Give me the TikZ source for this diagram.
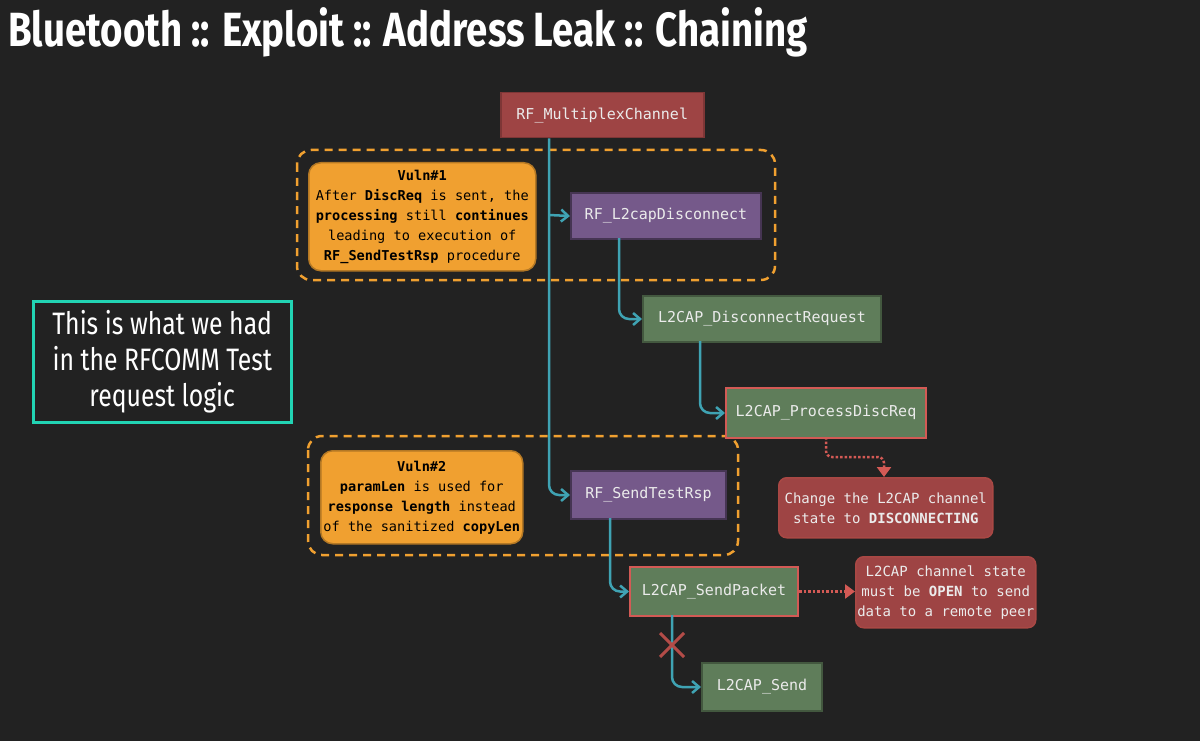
\documentclass[tikz,border=0pt]{standalone}
\usepackage{fontspec}
\setmainfont{DejaVu Sans Mono}
\newfontfamily\titlefont[FakeStretch=0.8]{Fira Sans}
\usetikzlibrary{arrows.meta}
\definecolor{bg}{HTML}{222222}
\definecolor{cred}{HTML}{9E4444}
\definecolor{cpur}{HTML}{75598A}
\definecolor{cgrn}{HTML}{5F7D5A}
\definecolor{corg}{HTML}{F0A030}
\definecolor{cteal}{HTML}{3FA3B3}
\definecolor{cbord}{HTML}{D35A55}
\definecolor{caqua}{HTML}{22D4B4}
\tikzset{
 fn/.style={font=\fontsize{15}{18}\selectfont, text=white!92!black, inner sep=0pt, anchor=north west},
 redbox/.style={fn, fill=cred, draw=cred!80!black, line width=1.5pt},
 purbox/.style={fn, fill=cpur, draw=cpur!60!black, line width=2pt},
 grnbox/.style={fn, fill=cgrn, draw=cgrn!70!black, line width=2pt},
 grnred/.style={fn, fill=cgrn, draw=cbord, line width=2pt},
 note/.style={fn, fill=cred, draw=cbord!80!black, rounded corners=8pt, line width=1.5pt, align=center, font=\fontsize{14}{20}\selectfont},
 vuln/.style={fn, fill=corg, draw=corg!75!black, rounded corners=12pt, line width=1.5pt, align=center, text=black, font=\fontsize{13.6}{20}\selectfont},
 dbox/.style={draw=corg, dashed, dash pattern=on 8pt off 6pt, line width=2.5pt, rounded corners=14pt},
 flow/.style={draw=cteal, line width=2.5pt, rounded corners=10pt, -{Straight Barb[length=7pt,width=12pt]}},
 dot/.style={draw=cbord, dotted, line width=2.5pt, rounded corners=6pt, -{Triangle[length=10pt,width=14pt]}},
}
\begin{document}
\begin{tikzpicture}[x=1pt,y=-1pt]
\fill[bg] (0,0) rectangle (1200,741);
\useasboundingbox (0,0) rectangle (1200,741);
\node[anchor=west, text=white, font=\titlefont\bfseries\fontsize{48}{54}\selectfont, inner sep=0pt] (title) at (8,32) {Bluetooth :: Exploit :: Address Leak :: Chaining};

\draw[dbox] (297,150) rectangle (775,280);
\draw[dbox] (308,436) rectangle (738,555);

\node[redbox, minimum width=203, minimum height=45] (mux) at (500,92) {\hspace*{8pt}RF\_MultiplexChannel\hspace*{8pt}};
\node[vuln, minimum width=227, minimum height=108] (v1) at (308,162) {\textbf{Vuln\#1}\\After \textbf{DiscReq} is sent, the\\\textbf{processing} still \textbf{continues}\\leading to execution of\\\textbf{RF\_SendTestRsp} procedure};
\node[purbox, minimum width=190, minimum height=46] (l2d) at (570,192) {RF\_L2capDisconnect};
\node[grnbox, minimum width=238, minimum height=46] (dreq) at (642,295) {L2CAP\_DisconnectRequest};
\node[grnred, minimum width=200, minimum height=50] (proc) at (725,387) {L2CAP\_ProcessDiscReq};
\node[note, minimum width=214, minimum height=60] (chg) at (778,477) {Change the L2CAP channel\\state to \textbf{DISCONNECTING}};
\node[vuln, minimum width=202, minimum height=93] (v2) at (320,450) {\textbf{Vuln\#2}\\\textbf{paramLen} is used for\\\textbf{response length} instead\\of the sanitized \textbf{copyLen}};
\node[purbox, minimum width=155, minimum height=48] (tr) at (570,470) {RF\_SendTestRsp};
\node[grnred, minimum width=168, minimum height=49] (sp) at (629,566) {L2CAP\_SendPacket};
\node[note, minimum width=180, minimum height=71] (opn) at (855,556) {L2CAP channel state\\must be \textbf{OPEN} to send\\data to a remote peer};
\node[grnbox, minimum width=120, minimum height=48] (snd) at (701,662) {L2CAP\_Send};
\node[draw=caqua, line width=2.5pt, minimum width=258, minimum height=121, anchor=north west, text=white, align=center, font=\titlefont\fontsize{31}{36}\selectfont] (left) at (32,300) {This is what we had\\in the RFCOMM Test\\request logic};

\coordinate (j1) at (549,215);
\draw[flow] (mux.south -| j1) |- (tr.west);
\draw[flow, rounded corners=0pt] (j1) -- (l2d.west);
\draw[flow] (619,238) |- (dreq.west);
\draw[flow] (700,341) |- (proc.west);
\draw[flow] (610,518) |- (sp.west);
\draw[flow] (672,615) |- (snd.west);
\draw[cbord!85!black, line width=3pt] (660,633) -- (684,657) (684,633) -- (660,657);
\draw[dot] (826,437) |- (884,457) -- (chg.north -| 884,0);
\draw[dot] (sp.east) -- (opn.west |- sp.east);
\end{tikzpicture}
\end{document}
